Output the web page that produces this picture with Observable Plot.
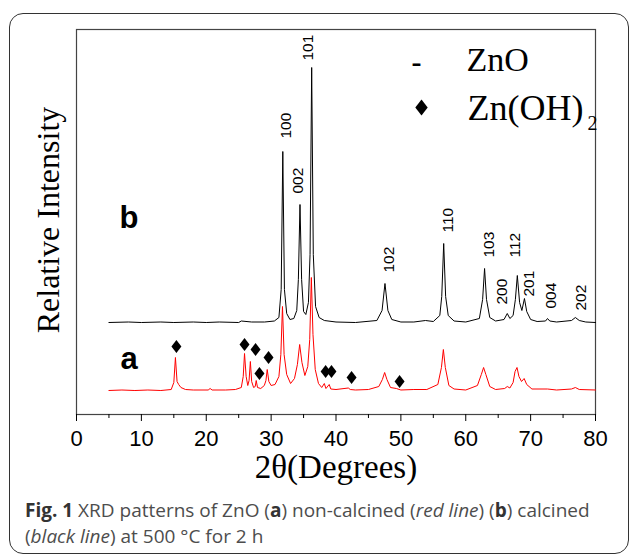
<!DOCTYPE html>
<html>
<head>
<meta charset="utf-8">
<script src="https://cdn.jsdelivr.net/npm/d3@7"></script>
<script src="https://cdn.jsdelivr.net/npm/@observablehq/plot@0.6"></script>
<style>
html, body { margin: 0; padding: 0; background: #fff; }
#wrap { position: relative; width: 629px; height: 554px; overflow: hidden; background: #fff; }
#border { position: absolute; left: 9px; top: 13px; width: 620px; height: 541px; border: 1.5px solid #333; border-radius: 14px; box-sizing: border-box; }
#chart { position: absolute; left: 0; top: 0; }
#cap { position: absolute; left: 25px; top: 497px; font-family: "Open Sans", sans-serif; font-size: 19px; line-height: 26px; color: #4d4d4d; white-space: nowrap; }
#cap b { color: #333; }
</style>
</head>
<body>
<div id="wrap">
  <div id="border"></div>
  <div id="chart"></div>
  <div id="cap"><b>Fig. 1</b> XRD patterns of ZnO (<b>a</b>) non-calcined (<i>red line</i>) (<b>b</b>) calcined<br>(<i>black line</i>) at 500 °C for 2 h</div>
</div>
<script>
// ---- x axis ticks ----
const xTicks = [0, 10, 20, 30, 40, 50, 60, 70, 80];
const xMinorTicks = [5, 15, 25, 35, 45, 55, 65, 75];

// ---- (b) calcined, black line: 2θ and relative intensity (arb. units) ----
const thetaB = [5, 8, 10, 13, 15, 18, 20, 22, 25, 25.4, 27, 29, 30.5, 31.2, 31.55, 31.8, 32.05, 32.4, 32.9, 33.5, 33.95, 34.2, 34.45, 34.7, 35.0, 35.35, 35.75, 36.0, 36.25, 36.5, 36.85, 37.4, 38.2, 40, 43, 46.3, 47.1, 47.55, 48.0, 48.6, 50, 52, 53.8, 55, 56.0, 56.3, 56.6, 56.9, 57.3, 58.2, 60, 62.1, 62.6, 62.9, 63.2, 63.7, 64.6, 65.9, 66.4, 66.8, 67.3, 67.65, 67.95, 68.3, 68.65, 69.05, 69.4, 70.0, 71, 72.3, 72.6, 72.95, 74, 76.3, 76.9, 77.5, 78.5, 80];
const intensityB = [92, 92.5, 92, 92.5, 92, 92.5, 92, 92.5, 92, 93.5, 92.5, 92.5, 93.5, 97, 125, 263, 125, 101, 95, 96, 104, 135, 210, 135, 103, 100, 112, 160, 347, 160, 108, 97, 94, 92.5, 92, 94, 104, 131, 104, 95, 92.5, 92.5, 94, 93, 99, 118, 171, 118, 99, 93.5, 92.5, 96, 115, 146, 115, 97, 93.5, 95, 101, 96, 99, 115, 139, 112, 104, 116, 103, 95, 93, 93.5, 96, 93.5, 92.5, 94, 97, 94, 92.5, 92];

// ---- (a) non-calcined, red line ----
const thetaA = [5, 7, 9, 11, 13, 14.6, 15.0, 15.25, 15.5, 15.75, 16.1, 16.8, 18, 20.3, 20.6, 20.9, 23, 24.5, 25.4, 25.7, 25.9, 26.15, 26.4, 26.6, 26.8, 27.0, 27.3, 27.55, 27.7, 27.9, 28.4, 28.95, 29.2, 29.4, 29.65, 30.0, 30.6, 31.2, 31.5, 31.75, 32.0, 32.4, 33.0, 33.6, 34.05, 34.4, 34.75, 35.2, 35.65, 35.95, 36.2, 36.45, 36.8, 37.3, 37.8, 38.2, 38.45, 38.95, 39.2, 40, 41.9, 42.2, 43, 45, 46.6, 47.15, 47.5, 47.85, 48.4, 49.3, 50, 52, 54, 55.7, 56.25, 56.55, 56.85, 57.4, 58.2, 60, 61.8, 62.4, 62.75, 63.1, 63.7, 64.6, 66.0, 66.4, 66.8, 67.3, 67.6, 67.9, 68.2, 68.6, 69.0, 69.4, 70.2, 72.6, 74, 76.3, 76.9, 77.5, 80];
const intensityA = [24, 24.5, 24, 24.5, 24, 25, 32, 57, 33, 30, 27, 25, 24.5, 24.5, 26, 24.5, 24.5, 25, 27, 38, 61, 38, 29, 34, 53, 33, 27, 28, 34, 27, 26, 29, 34, 45, 33, 29, 30, 38, 60, 108, 60, 40, 31, 36, 50, 70, 52, 39, 48, 75, 137, 80, 45, 31, 27, 31, 26, 30, 25.5, 25, 26.5, 25, 24.5, 25, 28, 35, 42, 35, 27, 26, 24.5, 25, 25, 30, 47, 65, 47, 29, 25.5, 24.5, 29, 40, 47, 40, 28, 25, 26, 28, 26.5, 32, 43, 47, 38, 33, 36, 30, 25.5, 25.5, 24.5, 25.5, 27, 25, 24.5];

// ---- Zn(OH)2 markers (diamonds) ----
const diamondTheta = [15.4, 25.9, 27.6, 28.2, 29.6, 38.4, 39.3, 42.4, 49.8];
const diamondI = [68, 70, 65, 41, 57, 43, 43, 37, 33];

// ---- ZnO hkl labels on the black pattern ----
const hklLabels = ["100", "002", "101", "102", "110", "103", "200", "112", "201", "004", "202"];
const hklTheta = [32.36, 34.2, 35.75, 48.1, 57.2, 63.6, 65.6, 67.6, 69.8, 73.2, 77.8];
const hklI = [276, 221, 354, 142, 182, 157, 110, 157, 118, 106, 104];

// ---- sample labels ----
const sampleLabels = ["b", "a"];
const sampleTheta = [8.1, 8.1];
const sampleI = [187, 46];

// ---- legend ----
const legendNames = ["ZnO", "Zn(OH)"];

// build tables
const lineB = thetaB.map((t, i) => ({theta: t, I: intensityB[i]}));
const lineA = thetaA.map((t, i) => ({theta: t, I: intensityA[i]}));
const diamonds = diamondTheta.map((t, i) => ({theta: t, I: diamondI[i]}));
const hkl = hklLabels.map((s, i) => ({label: s, theta: hklTheta[i], I: hklI[i]}));
const samples = sampleLabels.map((s, i) => ({label: s, theta: sampleTheta[i], I: sampleI[i]}));

const diamondSymbol = {
  draw(ctx, size) {
    const k = Math.sqrt(size / Math.PI);
    ctx.moveTo(0, -1.3 * k);
    ctx.lineTo(k, 0);
    ctx.lineTo(0, 1.3 * k);
    ctx.lineTo(-k, 0);
    ctx.closePath();
  }
};

const serif = "'Liberation Serif', 'Times New Roman', serif";

const chart = Plot.plot({
  width: 629,
  height: 480,
  marginLeft: 76,
  marginRight: 34,
  marginTop: 29,
  marginBottom: 66,
  style: {fontFamily: "'Liberation Sans', Arial, sans-serif", background: "transparent", overflow: "visible", color: "#000"},
  x: {domain: [0, 80]},
  y: {domain: [0, 385], axis: null},
  marks: [
    Plot.frame({stroke: "#444", strokeWidth: 1.2}),
    Plot.axisX(xMinorTicks, {tickSize: 4, tickFormat: () => "", label: null, stroke: "#000"}),
    Plot.axisX(xTicks, {tickSize: 7, tickPadding: 9, fontSize: 22, label: null, stroke: "#000", fill: "#000"}),
    Plot.line(lineB, {x: "theta", y: "I", stroke: "#000", strokeWidth: 1}),
    Plot.line(lineA, {x: "theta", y: "I", stroke: "#ff0000", strokeWidth: 1}),
    Plot.dot(diamonds, {x: "theta", y: "I", symbol: diamondSymbol, r: 5, fill: "#000", stroke: null}),
    Plot.text(hkl, {x: "theta", y: "I", text: "label", rotate: -90, textAnchor: "start", fontSize: 15.5, fill: "#000"}),
    Plot.text(samples, {x: "theta", y: "I", text: "label", fontSize: 31, fontWeight: "bold", lineAnchor: "bottom", fill: "#000"}),
    // axis titles
    Plot.text(["2θ(Degrees)"], {frameAnchor: "bottom", dy: 53, textAnchor: "middle", lineAnchor: "middle", fontSize: 33, fontFamily: serif, fill: "#000"}),
    Plot.text(["Relative Intensity"], {frameAnchor: "left", dx: -28, dy: -2, rotate: -90, textAnchor: "middle", lineAnchor: "middle", fontSize: 32, fontFamily: serif, fill: "#000"}),
    // legend
    Plot.text(["-"], {frameAnchor: "top-left", dx: 340, dy: 33, textAnchor: "middle", lineAnchor: "middle", fontSize: 30, fontWeight: "bold", fontFamily: serif, fill: "#000"}),
    Plot.text([legendNames[0]], {frameAnchor: "top-left", dx: 390, dy: 41, textAnchor: "start", lineAnchor: "bottom", fontSize: 34, fontFamily: serif, fill: "#000"}),
    Plot.dot([0], {frameAnchor: "top-left", dx: 345, dy: 78, symbol: diamondSymbol, r: 6.2, fill: "#000", stroke: null}),
    Plot.text([legendNames[1]], {frameAnchor: "top-left", dx: 391, dy: 90, textAnchor: "start", lineAnchor: "bottom", fontSize: 36, fontFamily: serif, fill: "#000"}),
    Plot.text(["2"], {frameAnchor: "top-left", dx: 511, dy: 100, textAnchor: "start", lineAnchor: "bottom", fontSize: 20, fontFamily: serif, fill: "#000"})
  ]
});
document.getElementById("chart").appendChild(chart);
</script>
</body>
</html>
